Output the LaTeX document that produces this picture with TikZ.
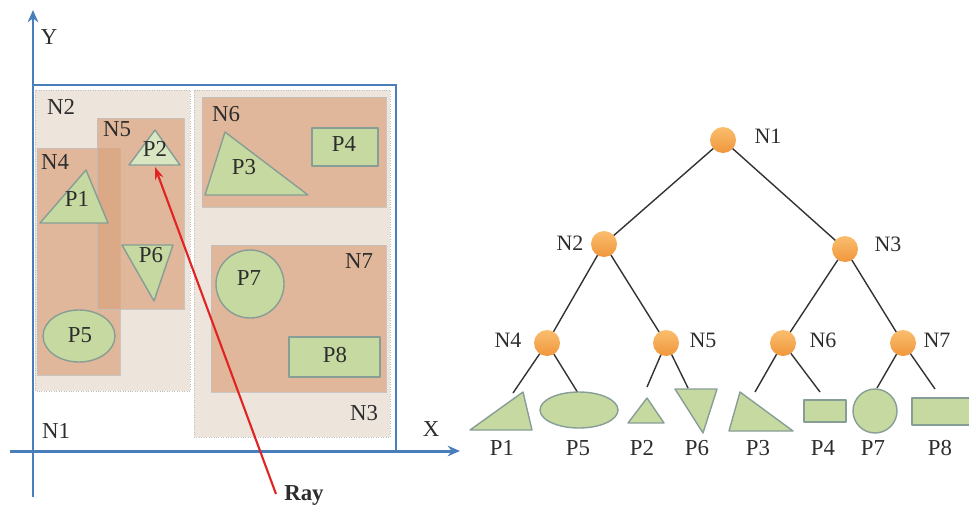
\documentclass[tikz,border=0pt]{standalone}
\usepackage{fontspec}
\setmainfont{Liberation Serif}
\usetikzlibrary{arrows.meta}
\definecolor{axisblue}{RGB}{74,126,187}
\definecolor{regionbeige}{RGB}{237,228,220}
\definecolor{tanfill}{RGB}{219,164,127}
\definecolor{shapegreen}{RGB}{198,217,160}
\definecolor{lightgreen}{RGB}{216,230,194}
\definecolor{shapeedge}{RGB}{135,158,150}
\definecolor{orangein}{RGB}{250,190,110}
\definecolor{orangeout}{RGB}{240,150,60}
\definecolor{raycol}{RGB}{225,35,35}
\definecolor{txtgray}{RGB}{45,45,45}
\tikzset{
  lbl/.style={inner sep=0pt, text=txtgray, font=\fontsize{13}{15}\selectfont},
  treelbl/.style={inner sep=0pt, text=txtgray, font=\fontsize{12.5}{15}\selectfont},
  region/.style={fill=regionbeige, draw=black!25, line width=0.4pt, densely dotted},
  subregion/.style={fill=tanfill, fill opacity=0.7, draw=black!25, draw opacity=0.8, line width=0.4pt},
  prim/.style={fill=shapegreen, draw=shapeedge, line width=0.8pt, line join=round},
  primlight/.style={fill=lightgreen, draw=shapeedge, line width=0.8pt, line join=round},
  axisline/.style={draw=axisblue, line width=1.7pt, -{Stealth[length=7pt,width=6pt]}},
  treenode/.style={circle, minimum size=0.52cm, inner sep=0pt, outer sep=0pt, top color=orangein, bottom color=orangeout, shading angle=0},
  edge/.style={draw=black!80, line width=0.8pt},
  ray/.style={draw=raycol, line width=1.2pt, -{Stealth[length=7pt,width=5pt]}}
}
\begin{document}
\begin{tikzpicture}[x=0.02cm,y=-0.02cm]
\useasboundingbox (0,0) rectangle (969,507);

% ---------- left: spatial layout ----------
\fill[region] (35,90) rectangle (190,391);
\fill[region] (194,90) rectangle (390,437);
\draw[region] (35,90) rectangle (190,391);
\draw[region] (194,90) rectangle (390,437);
\filldraw[subregion] (37,148) rectangle (120,375);
\filldraw[subregion] (97,118) rectangle (184,309);
\filldraw[subregion] (202,97) rectangle (386,207);
\filldraw[subregion] (211,245) rectangle (386,392);

% primitives
\filldraw[primlight] (155,130) -- (180,165) -- (129,165) -- cycle;
\filldraw[prim] (86,170) -- (108,223) -- (40,223) -- cycle;
\filldraw[prim] (122,245) -- (173,245) -- (154,301) -- cycle;
\filldraw[prim] (79,336) ellipse [x radius=36, y radius=26];
\filldraw[prim] (225,132) -- (308,195) -- (205,195) -- cycle;
\filldraw[prim] (312,128) rectangle (378,166);
\filldraw[prim] (250,284) circle [radius=34];
\filldraw[prim] (289,337) rectangle (380,377);

% N1 box and axes
\draw[axisblue, line width=1.3pt] (33,85) rectangle (396,451);
\coordinate (xs) at (10,451);
\coordinate (xe) at (460,451);
\coordinate (ys) at (33,497);
\coordinate (ye) at (33,10);
\draw[axisline] (xs) -- (xe);
\draw[axisline] (ys) -- (ye);

% labels
\node[lbl] (lY) at (49,37) {Y};
\node[lbl] (lX) at (431,429) {X};
\node[lbl] (lN1) at (56,431) {N1};
\node[lbl] (lN2) at (61,107) {N2};
\node[lbl] (lN3) at (364,413) {N3};
\node[lbl] (lN4) at (55,162) {N4};
\node[lbl] (lN5) at (117,129) {N5};
\node[lbl] (lN6) at (226,114) {N6};
\node[lbl] (lN7) at (359,261) {N7};
\node[lbl] (lP1) at (77,199) {P1};
\node[lbl] (lP2) at (155,149) {P2};
\node[lbl] (lP3) at (244,167) {P3};
\node[lbl] (lP4) at (344,144) {P4};
\node[lbl] (lP5) at (80,335) {P5};
\node[lbl] (lP6) at (151,255) {P6};
\node[lbl] (lP7) at (249,278) {P7};
\node[lbl] (lP8) at (335,355) {P8};

% ray
\coordinate (raystart) at (276,494);
\coordinate (raytip) at (155,167);
\draw[ray] (raystart) -- (raytip);
\node[lbl, font=\fontsize{13}{15}\selectfont\bfseries] (lray) at (304,495) {Ray};

% ---------- right: tree ----------
\node[treenode] (t1) at (723,140) {};
\node[treenode] (t2) at (604,244) {};
\node[treenode] (t3) at (845,249) {};
\node[treenode] (t4) at (547,343) {};
\node[treenode] (t5) at (666,343) {};
\node[treenode] (t6) at (783,343) {};
\node[treenode] (t7) at (903,343) {};

\node[treelbl] (tl1) at (768,136) {N1};
\node[treelbl] (tl2) at (570,243) {N2};
\node[treelbl] (tl3) at (888,244) {N3};
\node[treelbl] (tl4) at (508,340) {N4};
\node[treelbl] (tl5) at (703,340) {N5};
\node[treelbl] (tl6) at (823,340) {N6};
\node[treelbl] (tl7) at (937,340) {N7};

\draw[edge] (t1) -- (t2);
\draw[edge] (t1) -- (t3);
\draw[edge] (t2) -- (t4);
\draw[edge] (t2) -- (t5);
\draw[edge] (t3) -- (t6);
\draw[edge] (t3) -- (t7);

\coordinate (e1) at (513,393);
\coordinate (e5) at (578,393);
\coordinate (e2) at (647,387);
\coordinate (e6) at (688,388);
\coordinate (e3) at (755,392);
\coordinate (e4) at (820,392);
\coordinate (e7) at (877,388);
\coordinate (e8) at (935,389);
\draw[edge] (t4) -- (e1);
\draw[edge] (t4) -- (e5);
\draw[edge] (t5) -- (e2);
\draw[edge] (t5) -- (e6);
\draw[edge] (t6) -- (e3);
\draw[edge] (t6) -- (e4);
\draw[edge] (t7) -- (e7);
\draw[edge] (t7) -- (e8);

% leaf primitives
\filldraw[prim] (470,430) -- (523,392) -- (532,430) -- cycle;
\filldraw[prim] (579,410) ellipse [x radius=39, y radius=18];
\filldraw[prim] (647,398) -- (664,423) -- (628,423) -- cycle;
\filldraw[prim] (675,389) -- (717,389) -- (703,433) -- cycle;
\filldraw[prim] (740,392) -- (793,431) -- (729,431) -- cycle;
\filldraw[prim] (804,400) rectangle (846,422);
\filldraw[prim] (875,411) circle [radius=22];
\filldraw[prim] (912,398) rectangle (972,425);

\node[lbl] (lfP1) at (502,448) {P1};
\node[lbl] (lfP5) at (578,448) {P5};
\node[lbl] (lfP2) at (642,448) {P2};
\node[lbl] (lfP6) at (697,448) {P6};
\node[lbl] (lfP3) at (758,448) {P3};
\node[lbl] (lfP4) at (823,448) {P4};
\node[lbl] (lfP7) at (873,448) {P7};
\node[lbl] (lfP8) at (940,448) {P8};
\end{tikzpicture}
\end{document}
